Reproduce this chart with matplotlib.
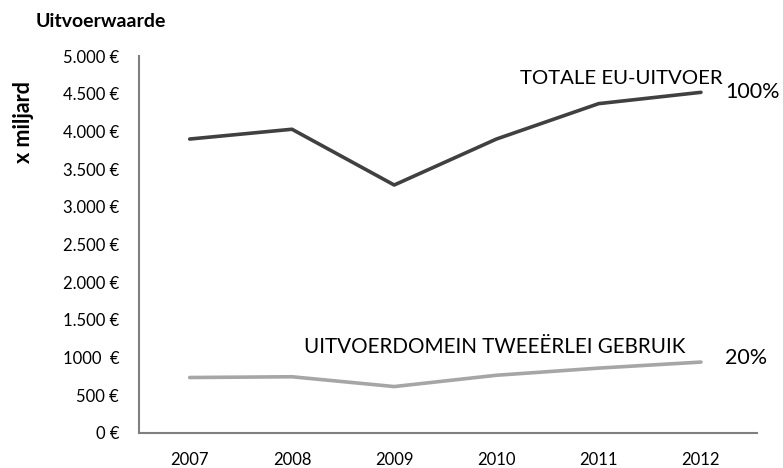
import matplotlib
matplotlib.use("Agg")
import matplotlib.pyplot as plt

years = ["2007", "2008", "2009", "2010", "2011", "2012"]
totale_eu = [3900, 4030, 3290, 3900, 4370, 4520]
tweeerlei = [735, 745, 615, 765, 860, 940]
ytick_vals = [0, 500, 1000, 1500, 2000, 2500, 3000, 3500, 4000, 4500, 5000]
ytick_labels = ["0 €", "500 €", "1000  €", "1.500 €", "2.000 €", "2.500 €",
                "3.000 €", "3.500 €", "4.000 €", "4.500 €", "5.000 €"]

plt.rcParams['font.family'] = ['Lato', 'DejaVu Sans']

fig = plt.figure(figsize=(7.83, 4.68), dpi=100)
ax = fig.add_axes([0.177, 0.075, 0.79, 0.805])

x = list(range(len(years)))
ax.plot(x, totale_eu, color="#404040", lw=2.6, solid_capstyle="round")
ax.plot(x, tweeerlei, color="#a6a6a6", lw=2.6, solid_capstyle="round")

ax.set_xlim(-0.5, 5.55)
ax.set_ylim(0, 5000)
ax.set_xticks(x)
ax.set_xticklabels(years, fontsize=12)
ax.set_yticks(ytick_vals)
ax.set_yticklabels(ytick_labels, fontsize=12)
ax.tick_params(length=0, pad=14)
ax.tick_params(axis='x', pad=14)

for s in ["top", "right"]:
    ax.spines[s].set_visible(False)
for s in ["left", "bottom"]:
    ax.spines[s].set_color("#808080")
    ax.spines[s].set_linewidth(1.5)

ax.text(4.22, 4710, "TOTALE EU-UITVOER", fontsize=14.7, ha="center", va="center", color="#000000")
ax.text(5.24, 4520, "100%", fontsize=15.5, ha="left", va="center")
ax.text(2.98, 1140, "UITVOERDOMEIN TWEEËRLEI GEBRUIK", fontsize=14.9, ha="center", va="center")
ax.text(5.24, 1000, "20%", fontsize=15.5, ha="left", va="center")

fig.text(0.045, 0.953, "Uitvoerwaarde", fontsize=14, fontweight="bold", ha="left", va="center")
fig.text(0.03, 0.74, "x miljard", fontsize=15.5, fontweight="bold", rotation=90, ha="center", va="center")

fig.savefig("out.png", dpi=100)
